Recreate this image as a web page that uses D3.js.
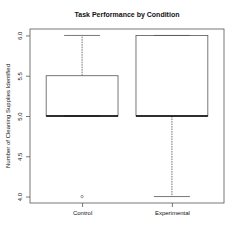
<!DOCTYPE html>
<html>
<head>
<meta charset="utf-8">
<script src="https://cdn.jsdelivr.net/npm/d3@7"></script>
<style>
  body { margin: 0; background: #fff; }
  svg text { font-family: "Liberation Sans", Arial, sans-serif; fill: #111; }
</style>
</head>
<body>
<div id="chart"></div>
<script>
// data
const groups = ["Control", "Experimental"];
const lowerWhisker = [5.0, 4.0];
const q1 = [5.0, 5.0];
const medians = [5.0, 5.0];
const q3 = [5.5, 6.0];
const upperWhisker = [6.0, 6.0];
const outliers = [[4.0], []];
const yTicks = [4.0, 4.5, 5.0, 5.5, 6.0];

const width = 240, height = 240;
const plot = {left: 30, right: 224, top: 29, bottom: 203};
const lineCol = "#555";

const svg = d3.select("#chart").append("svg")
    .attr("width", width)
    .attr("height", height);

// scales (R style: 4% padding on each side)
const x = d3.scaleLinear()
    .domain([0.42, 2.58])
    .range([plot.left, plot.right]);

const y = d3.scaleLinear()
    .domain([3.92, 6.08])
    .range([plot.bottom, plot.top]);

const boxHalf = 0.4, capHalf = 0.2;

const data = groups.map(function(g, i) {
    return {name: g, pos: i + 1, lo: lowerWhisker[i], q1: q1[i], med: medians[i],
            q3: q3[i], hi: upperWhisker[i], out: outliers[i]};
});

const g = svg.append("g");

data.forEach(function(d) {
    // whiskers
    if (d.hi > d.q3) {
        g.append("line")
            .attr("x1", x(d.pos)).attr("x2", x(d.pos))
            .attr("y1", y(d.q3)).attr("y2", y(d.hi))
            .attr("stroke", lineCol).attr("stroke-width", 0.8)
            .attr("stroke-dasharray", "1.6,0.9");
    }
    if (d.lo < d.q1) {
        g.append("line")
            .attr("x1", x(d.pos)).attr("x2", x(d.pos))
            .attr("y1", y(d.q1)).attr("y2", y(d.lo))
            .attr("stroke", lineCol).attr("stroke-width", 0.8)
            .attr("stroke-dasharray", "1.6,0.9");
    }
    // caps
    [d.lo, d.hi].forEach(function(v) {
        g.append("line")
            .attr("x1", x(d.pos - capHalf)).attr("x2", x(d.pos + capHalf))
            .attr("y1", y(v)).attr("y2", y(v))
            .attr("stroke", lineCol).attr("stroke-width", 0.8);
    });
    // box
    g.append("rect")
        .attr("x", x(d.pos - boxHalf))
        .attr("y", y(d.q3))
        .attr("width", x(d.pos + boxHalf) - x(d.pos - boxHalf))
        .attr("height", y(d.q1) - y(d.q3))
        .attr("fill", "none")
        .attr("stroke", lineCol).attr("stroke-width", 0.8);
    // median
    g.append("line")
        .attr("x1", x(d.pos - boxHalf)).attr("x2", x(d.pos + boxHalf))
        .attr("y1", y(d.med)).attr("y2", y(d.med))
        .attr("stroke", "#000").attr("stroke-width", 1.4);
    // outliers
    d.out.forEach(function(v) {
        g.append("circle")
            .attr("cx", x(d.pos)).attr("cy", y(v)).attr("r", 1.2)
            .attr("fill", "none")
            .attr("stroke", lineCol).attr("stroke-width", 0.6);
    });
});

// frame
svg.append("rect")
    .attr("x", plot.left).attr("y", plot.top)
    .attr("width", plot.right - plot.left)
    .attr("height", plot.bottom - plot.top)
    .attr("fill", "none")
    .attr("stroke", lineCol).attr("stroke-width", 0.8);

// x axis
const xAxis = svg.append("g")
    .attr("transform", "translate(0," + plot.bottom + ")")
    .call(d3.axisBottom(x).tickValues([1, 2]).tickSize(4).tickFormat(function(d) { return groups[d - 1]; }));
xAxis.select(".domain").remove();
xAxis.selectAll(".tick line").attr("stroke", lineCol).attr("stroke-width", 0.8);
xAxis.selectAll(".tick text").attr("y", 8).style("font-size", "6px").attr("fill", "#111");

// y axis, labels rotated like R
const yAxis = svg.append("g")
    .attr("transform", "translate(" + plot.left + ",0)")
    .call(d3.axisLeft(y).tickValues(yTicks).tickSize(4).tickFormat(d3.format(".1f")));
yAxis.select(".domain").remove();
yAxis.selectAll(".tick line").attr("stroke", lineCol).attr("stroke-width", 0.8);
yAxis.selectAll(".tick text")
    .attr("x", null).attr("dy", null)
    .attr("transform", "translate(-8,0) rotate(-90)")
    .attr("text-anchor", "middle")
    .style("font-size", "6px").attr("fill", "#111");

// title
svg.append("text")
    .attr("x", (plot.left + plot.right) / 2)
    .attr("y", 17)
    .attr("text-anchor", "middle")
    .style("font-size", "7px")
    .style("font-weight", "bold")
    .attr("fill", "#000")
    .text("Task Performance by Condition");

// y label
svg.append("text")
    .attr("transform", "translate(10," + ((plot.top + plot.bottom) / 2) + ") rotate(-90)")
    .attr("text-anchor", "middle")
    .style("font-size", "6px")
    .text("Number of Cleaning Supplies Identified");
</script>
</body>
</html>
